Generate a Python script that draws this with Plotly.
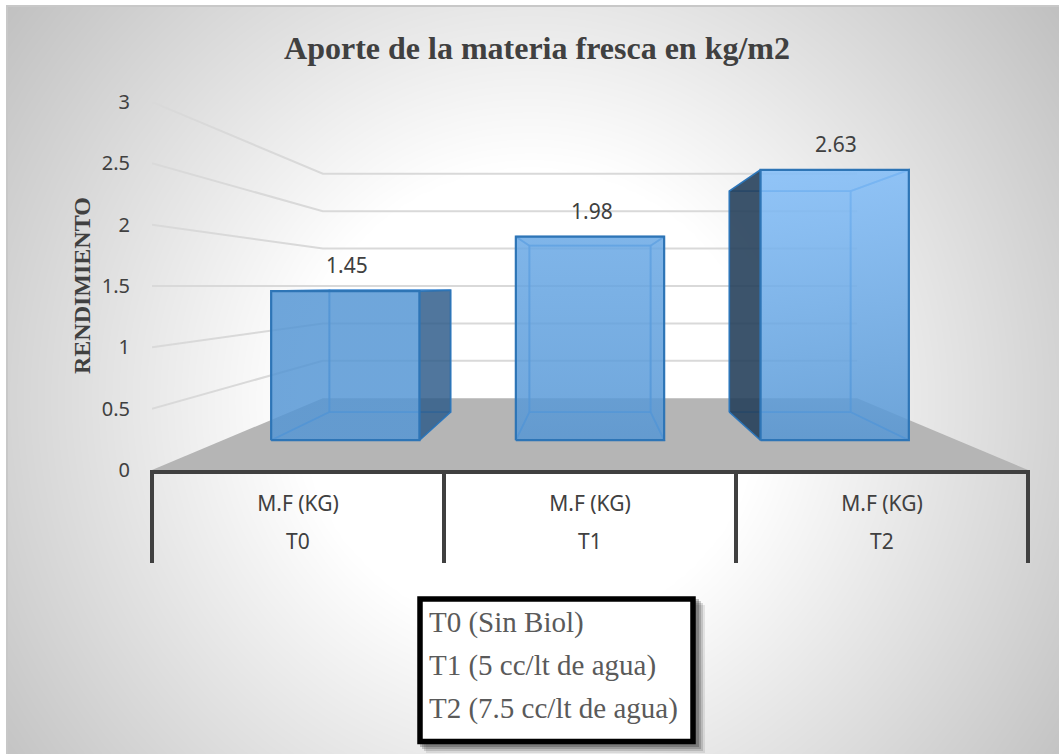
import numpy as np
import plotly.graph_objects as go

WIDTH, HEIGHT = 1059, 754

# Data
treatments = ["T0", "T1", "T2"]
measure_labels = ["M.F (KG)", "M.F (KG)", "M.F (KG)"]
yield_values = [1.45, 1.98, 2.63]
y_ticks = [0, 0.5, 1, 1.5, 2, 2.5, 3]
key_lines = ["T0 (Sin Biol)", "T1 (5 cc/lt de agua)", "T2 (7.5 cc/lt de agua)"]
chart_title = "Aporte de la materia fresca en kg/m2"
y_title = "RENDIMIENTO"

# Perspective set-up of the 3-D column chart, in axis units
VANISH_X, VANISH_Y = 1.5, 1.5
WALL_SCALE = 0.61
BAR_FRONT_SCALE = 0.838
BAR_BACK_SCALE = 0.685
BAR_HALF_WIDTH = 0.303

# Plot rectangle in pixels
PLOT_LEFT, PLOT_RIGHT, PLOT_TOP, PLOT_BOTTOM = 152, 1028, 102, 470
FRAME_LEFT, FRAME_TOP = 8, 7

INK = "#404040"
EDGE = "#2e75b6"
INNER_EDGE = "rgba(66,140,215,0.65)"
OUTER_SIDE = {0: "rgba(45,90,135,0.82)", 2: "rgba(35,62,88,0.88)"}
FRONT_LOW = (85, 150, 212)
FRONT_HIGH = (129, 189, 249)
FRONT_ALPHA = 0.83


def project(x, y, scale):
    return VANISH_X + (x - VANISH_X) * scale, VANISH_Y + (y - VANISH_Y) * scale


def polygon(corners):
    xs = [c[0] for c in corners] + [corners[0][0]]
    ys = [c[1] for c in corners] + [corners[0][1]]
    return xs, ys


def px_x(p):
    return p / WIDTH


def px_y(p):
    return 1 - p / HEIGHT


def front_colour(height):
    # Column fronts stay flat up to the shortest column, then brighten with height
    t = min(max((height - 1.45) / (2.63 - 1.45), 0), 1)
    rgb = [round(a + (b - a) * t) for a, b in zip(FRONT_LOW, FRONT_HIGH)]
    return f"rgba({rgb[0]},{rgb[1]},{rgb[2]},{FRONT_ALPHA})"


fig = go.Figure()

# Soft radial backdrop filling the chart frame
gx = np.linspace(FRAME_LEFT, WIDTH, 110)
gy = np.linspace(FRAME_TOP, HEIGHT, 80)
dist = np.hypot(*np.meshgrid(gx - 530, gy - 400))
shade = np.clip(255 - (dist - 230) * 60 / 410, 150, 255)
fig.add_trace(go.Heatmap(
    x=gx, y=gy, z=shade, zmin=0, zmax=255, zsmooth="best", showscale=False,
    colorscale=[[0, "rgb(0,0,0)"], [1, "rgb(255,255,255)"]], hoverinfo="skip",
    xaxis="x", yaxis="y",
))


def add_poly(corners, fill=None, line=None, width=0, gradient=None):
    xs, ys = polygon(corners)
    kw = dict(fill="toself", mode="lines", hoverinfo="skip", showlegend=False,
              xaxis="x2", yaxis="y2", cliponaxis=False,
              line=dict(color=line or "rgba(0,0,0,0)", width=width))
    if gradient:
        kw["fillgradient"] = gradient
    else:
        kw["fillcolor"] = fill
    fig.add_trace(go.Scatter(x=xs, y=ys, **kw))


# Floor
add_poly([(0, 0), (3, 0), project(3, 0, WALL_SCALE), project(0, 0, WALL_SCALE)], fill="#b5b5b5")

# Gridlines running along the side wall and then the back wall
for tick in y_ticks[1:]:
    a = (0, tick)
    b = project(0, tick, WALL_SCALE)
    c = project(3, tick, WALL_SCALE)
    fig.add_trace(go.Scatter(
        x=[a[0], b[0], c[0]], y=[a[1], b[1], c[1]], mode="lines", hoverinfo="skip",
        showlegend=False, xaxis="x2", yaxis="y2",
        line=dict(color="#d9d9d9", width=2),
    ))

# Columns
for i, value in enumerate(yield_values):
    left, right = i + 0.5 - BAR_HALF_WIDTH, i + 0.5 + BAR_HALF_WIDTH
    fbl = project(left, 0, BAR_FRONT_SCALE)
    fbr = project(right, 0, BAR_FRONT_SCALE)
    ftl = project(left, value, BAR_FRONT_SCALE)
    ftr = project(right, value, BAR_FRONT_SCALE)
    bbl = project(left, 0, BAR_BACK_SCALE)
    bbr = project(right, 0, BAR_BACK_SCALE)
    btl = project(left, value, BAR_BACK_SCALE)
    btr = project(right, value, BAR_BACK_SCALE)

    soft = "rgba(90,160,230,0.10)"
    add_poly([bbl, bbr, btr, btl], fill=soft, line=INNER_EDGE, width=1.8)
    add_poly([fbl, fbr, bbr, bbl], fill=soft, line=INNER_EDGE, width=1.8)
    add_poly([ftl, ftr, btr, btl], fill=soft, line=INNER_EDGE, width=1.8)

    left_side = [fbl, bbl, btl, ftl]
    right_side = [fbr, bbr, btr, ftr]
    if i == 0:
        add_poly(left_side, fill=soft, line=INNER_EDGE, width=1.8)
        add_poly(right_side, fill=OUTER_SIDE[i], line=EDGE, width=1.5)
    elif i == 2:
        add_poly(right_side, fill=soft, line=INNER_EDGE, width=1.8)
        add_poly(left_side, fill=OUTER_SIDE[i], line=EDGE, width=1.5)
    else:
        add_poly(left_side, fill=soft, line=INNER_EDGE, width=1.8)
        add_poly(right_side, fill=soft, line=INNER_EDGE, width=1.8)

    add_poly([fbl, fbr, ftr, ftl], line=EDGE, width=2.2, gradient=dict(
        type="vertical",
        colorscale=[[0, front_colour(0.24)], [1, front_colour(value)]],
    ))

annotations = []

# Value labels above the front top edge of each column
for i, value in enumerate(yield_values):
    x, y = project(i + 0.5, value, BAR_FRONT_SCALE)
    annotations.append(dict(
        x=x, y=y, xref="x2", yref="y2", text=f"{value:g}", showarrow=False,
        yanchor="middle", yshift=26, xshift=1.5,
        font=dict(family="Noto Sans", size=21, color=INK),
    ))

# Second tier of category labels
for i, name in enumerate(treatments):
    annotations.append(dict(
        x=i + 0.5, y=px_y(541), xref="x2", yref="paper", text=name, showarrow=False,
        yanchor="middle", font=dict(family="Noto Sans", size=21, color=INK),
    ))

# Vertical axis caption
annotations.append(dict(
    x=px_x(82), y=px_y(286), xref="paper", yref="paper", text=f"<b>{y_title}</b>",
    showarrow=False, textangle=-90, xanchor="center", yanchor="middle",
    font=dict(family="Liberation Serif", size=24, color=INK),
))

# Key box text
for line_text, top in zip(key_lines, [622, 665, 708]):
    annotations.append(dict(
        x=px_x(427), y=px_y(top), xref="paper", yref="paper", text=line_text,
        showarrow=False, xanchor="left", yanchor="middle",
        font=dict(family="Liberation Serif", size=29, color="#5a5a5a"),
    ))

shapes = [
    # Chart frame
    dict(type="rect", xref="paper", yref="paper", layer="below",
         x0=px_x(FRAME_LEFT - 1), x1=px_x(WIDTH + 5), y0=px_y(HEIGHT + 5), y1=px_y(FRAME_TOP - 1),
         line=dict(color="#c8c8c8", width=2)),
]

# Category dividers dropping below the floor
drop = -(563 - PLOT_BOTTOM) / (PLOT_BOTTOM - PLOT_TOP)
for k in range(len(treatments) + 1):
    shapes.append(dict(
        type="line", xref="x2 domain", yref="y2 domain",
        x0=k / len(treatments), x1=k / len(treatments), y0=0, y1=drop,
        line=dict(color=INK, width=4),
    ))

# Key box: shadow layers, then the bordered box
for off, alpha in [(9, 0.10), (7, 0.16), (5, 0.22), (3, 0.28)]:
    shapes.append(dict(
        type="rect", xref="paper", yref="paper",
        x0=px_x(417 + off), x1=px_x(696 + off), y0=px_y(744 + off), y1=px_y(596 + off),
        fillcolor=f"rgba(40,40,40,{alpha})", line=dict(width=0),
    ))
shapes.append(dict(
    type="rect", xref="paper", yref="paper",
    x0=px_x(420), x1=px_x(693), y0=px_y(741.5), y1=px_y(599),
    fillcolor="white", line=dict(color="black", width=5.5),
))

fig.update_layout(
    width=WIDTH, height=HEIGHT, margin=dict(l=0, r=0, t=0, b=0),
    paper_bgcolor="white", plot_bgcolor="rgba(0,0,0,0)", showlegend=False,
    title=dict(
        text=f"<b>{chart_title}</b>", x=537 / WIDTH, xanchor="center",
        y=px_y(48), yanchor="middle",
        font=dict(family="Liberation Serif", size=32, color=INK),
    ),
    # Backdrop axes covering the frame
    xaxis=dict(domain=[px_x(FRAME_LEFT), 1], range=[FRAME_LEFT, WIDTH], visible=False,
               fixedrange=True, automargin=False),
    yaxis=dict(domain=[0, px_y(FRAME_TOP)], range=[HEIGHT, FRAME_TOP], visible=False,
               fixedrange=True, automargin=False),
    # Chart axes
    xaxis2=dict(
        domain=[px_x(PLOT_LEFT), px_x(PLOT_RIGHT)], range=[0, 3], anchor="y2",
        tickmode="array", tickvals=[i + 0.5 for i in range(3)], ticktext=measure_labels,
        ticks="outside", ticklen=12, tickcolor="rgba(0,0,0,0)",
        tickfont=dict(family="Noto Sans", size=21, color=INK),
        showgrid=False, zeroline=False, showline=True, linecolor=INK, linewidth=3.5,
        fixedrange=True, automargin=False,
    ),
    yaxis2=dict(
        domain=[px_y(PLOT_BOTTOM), px_y(PLOT_TOP)], range=[0, 3], anchor="x2",
        tickmode="array", tickvals=y_ticks, ticktext=[f"{t:g}" for t in y_ticks],
        ticks="outside", ticklen=17, tickcolor="rgba(0,0,0,0)",
        tickfont=dict(family="Noto Sans", size=20, color=INK),
        showgrid=False, zeroline=False, showline=False, fixedrange=True, automargin=False,
    ),
    annotations=annotations,
    shapes=shapes,
)

fig.write_html("out.html", config={"displayModeBar": False})
